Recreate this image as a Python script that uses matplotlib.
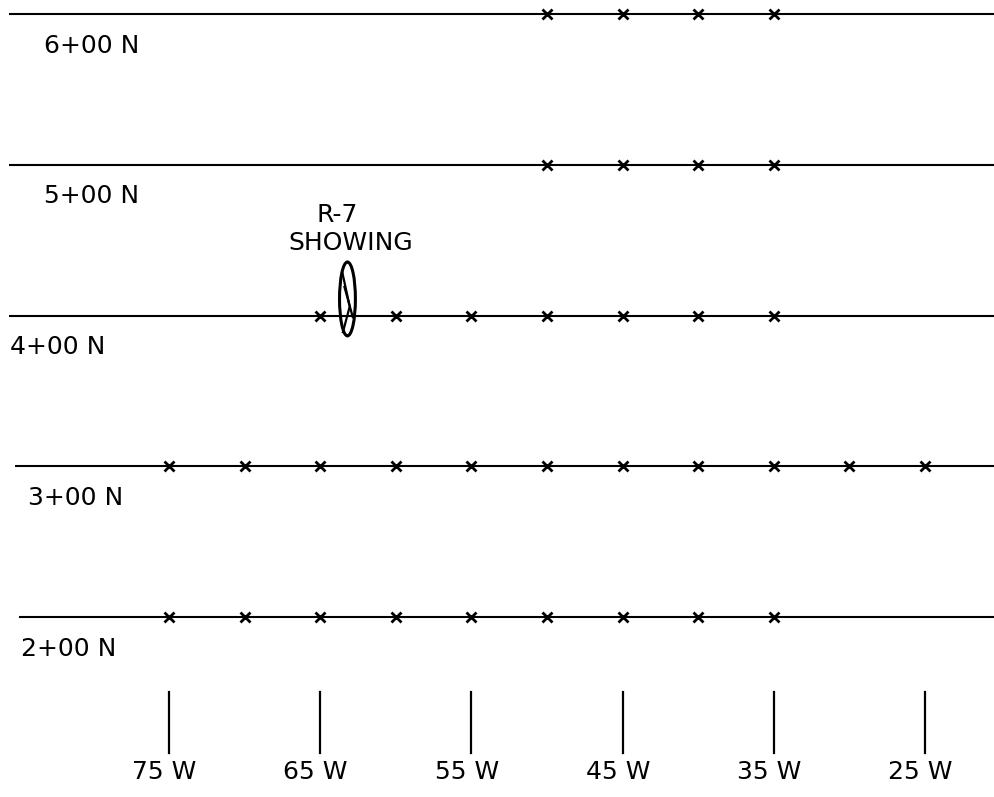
import numpy as np
import matplotlib
matplotlib.use('Agg')
import matplotlib.pyplot as plt
from matplotlib.patches import Ellipse

# grid lines (northing, in hundreds) and their labels
lines_n = [6, 5, 4, 3, 2]
line_labels = ['6+00 N', '5+00 N', '4+00 N', '3+00 N', '2+00 N']
line_start_w = [85.6, 85.6, 85.6, 85.2, 84.9]
label_w = [83.3, 83.3, 85.5, 84.3, 84.8]

# sample stations (x marks) along each line, in W
stations = {
    6: [50, 45, 40, 35],
    5: [50, 45, 40, 35],
    4: [65, 60, 55, 50, 45, 40, 35],
    3: [75, 70, 65, 60, 55, 50, 45, 40, 35, 30, 25],
    2: [75, 70, 65, 60, 55, 50, 45, 40, 35],
}

# baseline ticks
tick_w = [75, 65, 55, 45, 35, 25]
tick_labels = ['75 W', '65 W', '55 W', '45 W', '35 W', '25 W']

# showing
show_w, show_n = 63.2, 4.11
show_dw, show_dn = 1.05, 0.49

fig = plt.figure(figsize=(9.94, 7.97), dpi=100)
ax = fig.add_axes([0, 0, 1, 1])
ax.set_xlim(86.18, 20.44)
ax.set_ylim(0.806, 6.093)
ax.axis('off')

for n, lab, x0, lx in zip(lines_n, line_labels, line_start_w, label_w):
    ax.plot([x0, 20.0], [n, n], color='black', lw=1.5, solid_capstyle='butt')
    ax.plot(stations[n], [n] * len(stations[n]), ls='none', marker='x',
            color='black', ms=7, mew=2)
    ax.text(lx, n - 0.21, lab, fontsize=18, ha='left', va='center')

# ticks along the bottom
for w, lab in zip(tick_w, tick_labels):
    ax.plot([w, w], [1.10, 1.50], color='black', lw=1.6)
    ax.text(w + 0.3, 0.975, lab, fontsize=18, ha='center', va='center')

# R-7 showing
ax.add_patch(Ellipse((show_w, show_n), show_dw, show_dn, angle=0,
                     fill=False, ec='black', lw=2.2))
ax.plot([show_w + 0.35, show_w - 0.15, show_w + 0.3],
        [show_n + 0.18, show_n - 0.05, show_n - 0.22], color='black', lw=1.6)
ax.plot([show_w - 0.35, show_w + 0.2], [show_n - 0.12, show_n + 0.08],
        color='black', lw=1.6)
ax.text(63.9, 4.67, 'R-7', fontsize=18, ha='center', va='center')
ax.text(63.0, 4.48, 'SHOWING', fontsize=18, ha='center', va='center')

fig.savefig('out.png', dpi=100, facecolor='white')
